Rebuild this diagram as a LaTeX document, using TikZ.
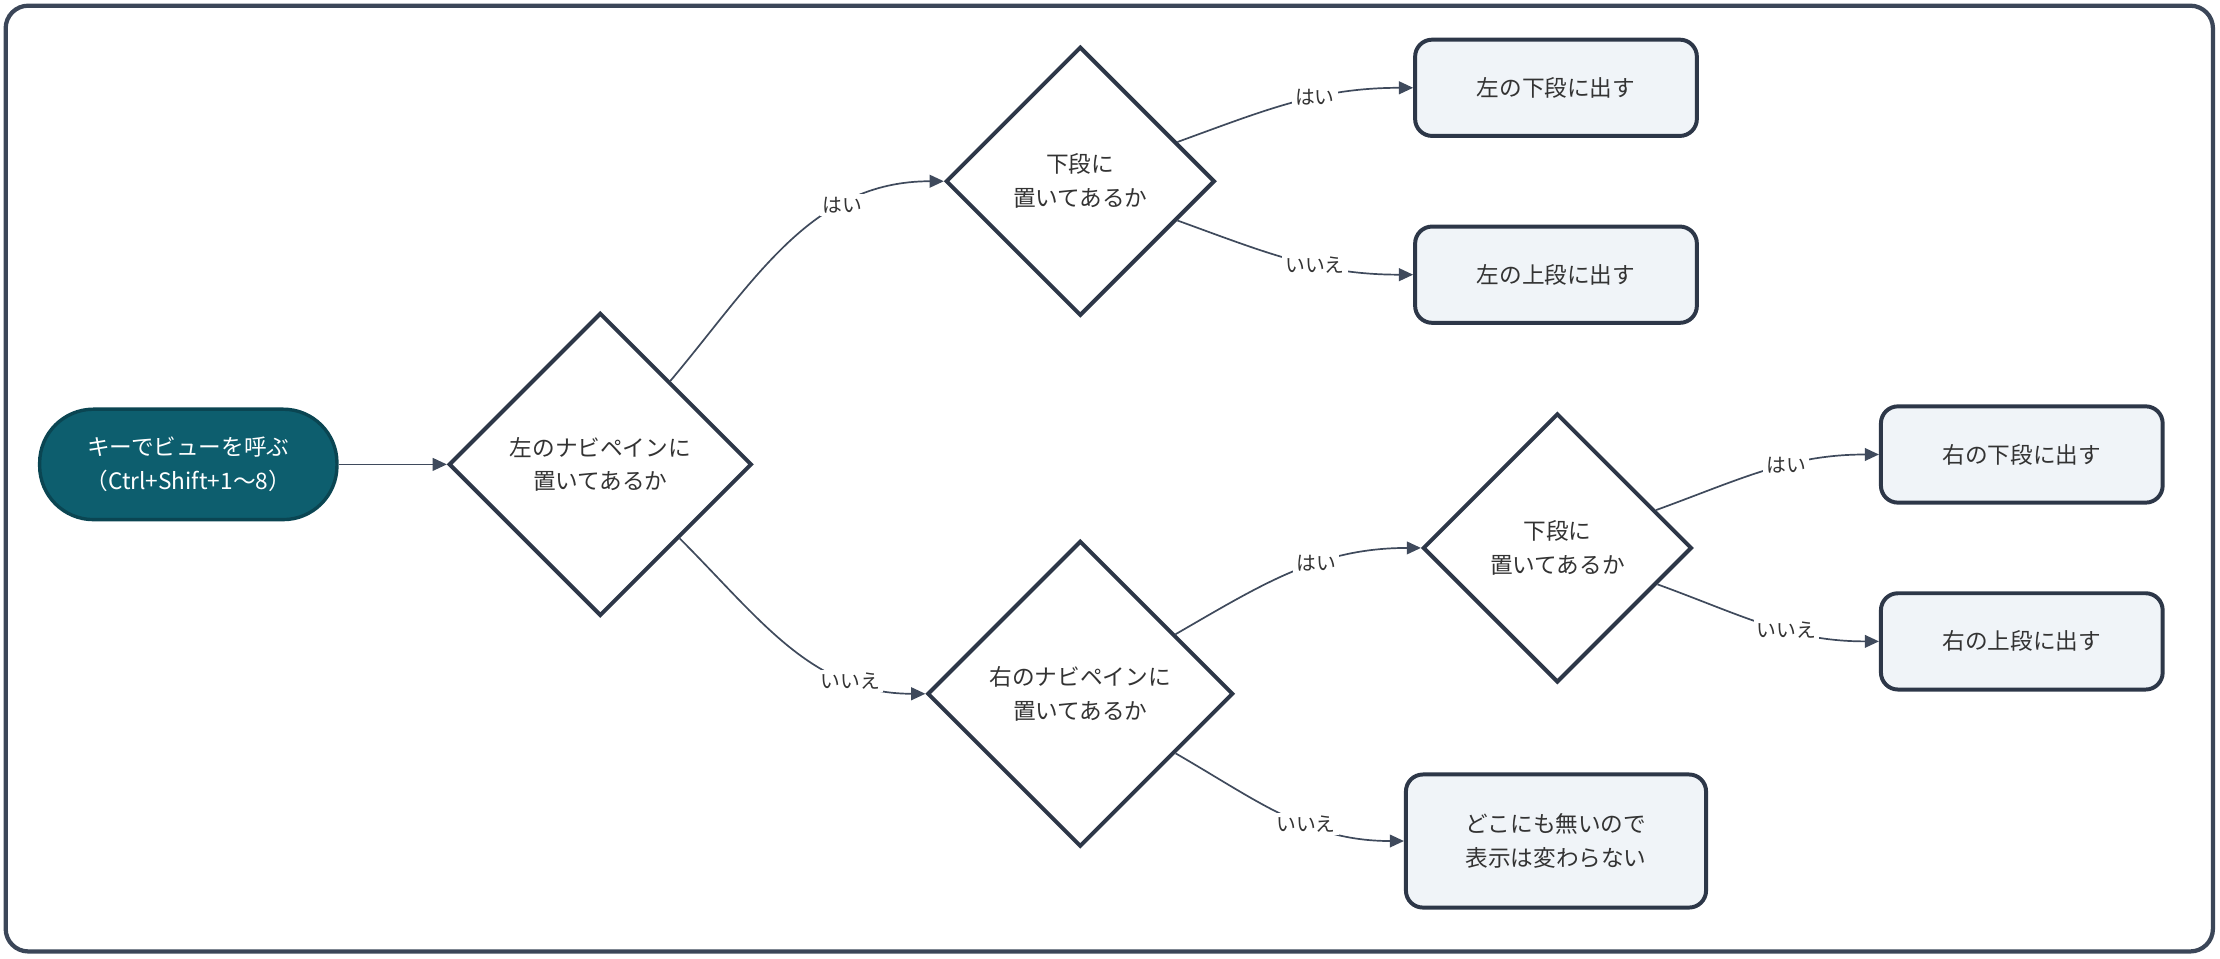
\documentclass[tikz,border=0pt]{standalone}
\usepackage{fontspec}
\setmainfont{Noto Sans CJK JP}
\usetikzlibrary{shapes.geometric,arrows.meta}
\definecolor{frameC}{HTML}{3B4658}
\definecolor{lineC}{HTML}{2D3748}
\definecolor{edgeC}{HTML}{3F4A5C}
\definecolor{boxC}{HTML}{F0F4F8}
\definecolor{startC}{HTML}{0D5E6E}
\definecolor{startD}{HTML}{0A4552}
\definecolor{txtC}{HTML}{333333}
\tikzset{
  decide/.style={diamond, draw=lineC, line width=1.4pt, fill=white, inner sep=1pt,
    minimum width=#1, minimum height=#1, align=center, font=\fontsize{8}{12}\selectfont, text=txtC},
  result/.style={rectangle, rounded corners=6pt, draw=lineC, line width=1.4pt, fill=boxC,
    minimum width=99.5pt, minimum height=34pt, align=center, font=\fontsize{8}{12}\selectfont, text=txtC},
  flow/.style={draw=edgeC, line width=0.6pt, -{Triangle[length=5pt,width=4.5pt]}},
  lab/.style={fill=white, inner sep=1pt, font=\fontsize{7}{8}\selectfont, text=txtC},
}
\begin{document}
\begin{tikzpicture}[x=0.5pt,y=-0.5pt]
\useasboundingbox (0,0) rectangle (1568,677);
%frame
\draw [frameC, line width=1.5pt, rounded corners=8pt] (4,4) rectangle (1563,672);

%start
\node (start) [rounded corners=19pt, draw=startD, line width=1.2pt, fill=startC, text=white,
  minimum width=105pt, minimum height=39pt, align=center, font=\fontsize{8}{12}\selectfont]
  at (133,328) {キーでビューを呼ぶ\\（Ctrl+Shift+1～8）};

%decisions
\node (dLeft) [decide=107pt] at (424,328) {左のナビペインに\\置いてあるか};
\node (dLeftLow) [decide=95pt] at (763,128) {下段に\\置いてあるか};
\node (dRight) [decide=108pt] at (763,490) {右のナビペインに\\置いてあるか};
\node (dRightLow) [decide=95pt] at (1100,387) {下段に\\置いてあるか};

%results
\node (leftLow) [result] at (1099,62) {左の下段に出す};
\node (leftUp) [result] at (1099,194) {左の上段に出す};
\node (rightLow) [result] at (1428,321) {右の下段に出す};
\node (rightUp) [result] at (1428,453) {右の上段に出す};
\node (none) [result, minimum width=106pt, minimum height=47pt] at (1099,594) {どこにも無いので\\表示は変わらない};

%connectors
\draw [flow] (start.east) to[out=0, in=180] (dLeft.west);
\draw [flow] (dLeft.50) to[out=50, in=180] node[lab, pos=0.7] {はい} (dLeftLow.west);
\draw [flow] (dLeft.-43) to[out=-45, in=180] node[lab, pos=0.75] {いいえ} (dRight.west);
\draw [flow] (dLeftLow.22) to[out=20, in=180] node[lab, pos=0.6] {はい} (leftLow.west);
\draw [flow] (dLeftLow.-22) to[out=-20, in=180] node[lab, pos=0.6] {いいえ} (leftUp.west);
\draw [flow] (dRight.32) to[out=30, in=180] node[lab, pos=0.6] {はい} (dRightLow.west);
\draw [flow] (dRight.-32) to[out=-30, in=180] node[lab, pos=0.6] {いいえ} (none.west);
\draw [flow] (dRightLow.21) to[out=20, in=180] node[lab, pos=0.6] {はい} (rightLow.west);
\draw [flow] (dRightLow.-20) to[out=-20, in=180] node[lab, pos=0.6] {いいえ} (rightUp.west);
\end{tikzpicture}
\end{document}
